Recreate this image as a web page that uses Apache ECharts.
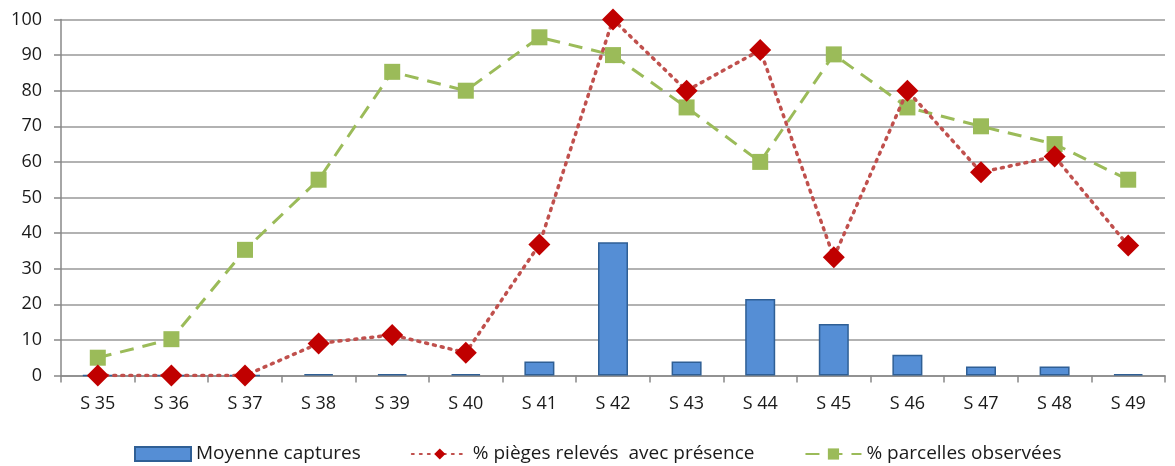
<!DOCTYPE html>
<html>
<head>
<meta charset="utf-8">
<script src="https://cdn.jsdelivr.net/npm/echarts@6/dist/echarts.min.js"></script>
<style>
  html, body { margin: 0; padding: 0; background: #fff; }
  #chart { width: 1175px; height: 466px; }
</style>
</head>
<body>
<div id="chart"></div>
<script>
// semaines
var weeks = ["S 35", "S 36", "S 37", "S 38", "S 39", "S 40", "S 41", "S 42", "S 43", "S 44", "S 45", "S 46", "S 47", "S 48", "S 49"];
// moyenne des captures (barres)
var moyenneCaptures = [0, 0, 0, 0.4, 0.4, 0.4, 3.9, 37.4, 3.9, 21.5, 14.5, 5.8, 2.5, 2.5, 0.4];
// % pièges relevés avec présence
var piegesPresence = [0, 0, 0, 9, 11.4, 6.4, 36.8, 100, 80, 91.4, 33.2, 80, 57.1, 61.5, 36.5];
// % parcelles observées
var parcellesObservees = [5, 10.2, 35.3, 55, 85.3, 80, 95, 90, 75.3, 60, 90.2, 75.3, 70, 65, 55];
var yTicks = { min: 0, max: 100, step: 10 };

var txt = "#1a1a1a";
var font = "'Open Sans', 'Noto Sans', sans-serif";

var chart = echarts.init(document.getElementById("chart"));
chart.setOption({
  animation: false,
  textStyle: { fontFamily: font },
  grid: { left: 61, right: 10, top: 19.5, bottom: 90.5 },
  legend: {
    top: 438,
    left: 129,
    itemWidth: 56,
    itemHeight: 14,
    itemGap: 50,
    textStyle: { fontSize: 19, lineHeight: 22, color: txt, fontFamily: font },
    data: [
      { name: "Moyenne captures", icon: "rect" },
      { name: "% pièges relevés  avec présence" },
      { name: "% parcelles observées" }
    ]
  },
  xAxis: {
    type: "category",
    data: weeks,
    axisLine: { lineStyle: { color: "#888", width: 1.5 } },
    axisTick: { show: true, length: 7, lineStyle: { color: "#888", width: 1.5 } },
    axisLabel: { color: txt, fontSize: 18, margin: 19 }
  },
  yAxis: {
    type: "value",
    min: yTicks.min,
    max: yTicks.max,
    interval: yTicks.step,
    axisLine: { show: true, lineStyle: { color: "#888", width: 1.5 } },
    axisTick: { show: true, length: 7, lineStyle: { color: "#888", width: 1.5 } },
    splitLine: { lineStyle: { color: "#999", width: 1.5 } },
    axisLabel: { color: txt, fontSize: 18, margin: 19 }
  },
  series: [
    {
      name: "Moyenne captures",
      type: "bar",
      data: moyenneCaptures,
      barWidth: 30,
      itemStyle: { color: "#558ed5", borderColor: "#2f5f95", borderWidth: 1.5 }
    },
    {
      name: "% pièges relevés  avec présence",
      type: "line",
      data: piegesPresence,
      symbol: "diamond",
      symbolSize: 22,
      lineStyle: { color: "#c0504d", width: 3.5, type: [2, 6], cap: "round" },
      itemStyle: { color: "#c00000" }
    },
    {
      name: "% parcelles observées",
      type: "line",
      data: parcellesObservees,
      symbol: "rect",
      symbolSize: 16,
      lineStyle: { color: "#9bbb59", width: 3, type: [14, 9] },
      itemStyle: { color: "#9bbb59" },
      z: 1
    }
  ]
});
</script>
</body>
</html>
